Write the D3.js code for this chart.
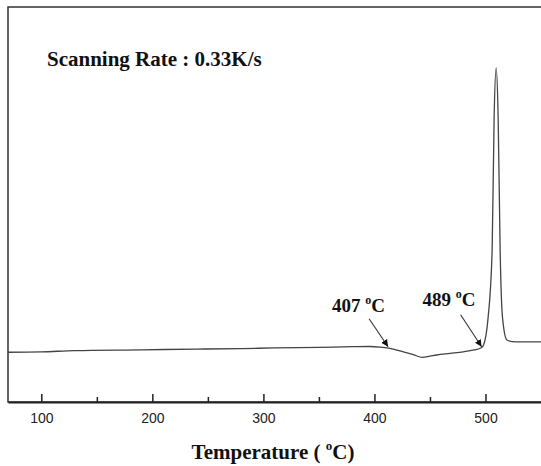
<!DOCTYPE html>
<html>
<head>
<meta charset="utf-8">
<script src="https://cdn.jsdelivr.net/npm/d3@7"></script>
<style>
  body { margin: 0; background: #fff; }
  svg { display: block; }
</style>
</head>
<body>
<div id="chart"></div>
<script>
var width = 541, height = 466;
var margin = {left: 8, top: 7, right: 0, bottom: 64};

// DSC trace, temperature (C) vs heat flow (arbitrary units)
var temps = [70, 100, 130, 190, 240, 280, 310, 350, 380, 396, 405, 414, 426, 435, 443, 450, 456, 468, 480, 490, 495.2, 497.6, 502.4, 506, 507.8, 509.6, 511.4, 513.2, 515.3, 519.3, 524, 531.3, 550];
var heatFlow = [12.6, 12.7, 13.0, 13.2, 13.4, 13.5, 13.7, 13.85, 14.0, 14.05, 13.9, 13.55, 12.7, 12.0, 11.3, 11.6, 11.9, 12.3, 12.7, 13.2, 13.6, 14.1, 21.5, 38.5, 72.2, 84.6, 72.2, 38.5, 21.5, 15.7, 15.3, 15.2, 15.2];

var majorTicks = [100, 200, 300, 400, 500];
var minorTicks = [150, 250, 350, 450];

var notes = ["407", "489"];
var noteTips = [412.3, 496.5];     // where the arrows point (temperature)
var noteTipVals = [14.0, 14.0];

var x = d3.scaleLinear()
	.domain([70, 550])
	.range([margin.left, width - margin.right]);

var y = d3.scaleLinear()
	.domain([0, 100])
	.range([height - margin.bottom, margin.top]);

var svg = d3.select("#chart").append("svg")
	.attr("width", width)
	.attr("height", height);

svg.append("defs").append("marker")
	.attr("id", "arrow")
	.attr("viewBox", "0 0 10 10")
	.attr("refX", 10)
	.attr("refY", 5)
	.attr("markerWidth", 7)
	.attr("markerHeight", 8)
	.attr("markerUnits", "userSpaceOnUse")
	.attr("orient", "auto")
	.append("path")
		.attr("d", "M0,0 L10,5 L0,10 z")
		.style("fill", "#111");

// frame
svg.append("rect")
	.attr("x", margin.left)
	.attr("y", margin.top)
	.attr("width", width + 10)
	.attr("height", y(0) - margin.top)
	.style("fill", "none")
	.style("stroke", "#333")
	.style("stroke-width", 1.5);

var xAxis = svg.append("g")
	.attr("transform", "translate(0," + y(0) + ")")
	.call(d3.axisBottom(x)
		.tickValues(majorTicks)
		.tickSizeInner(-8)
		.tickSizeOuter(0)
		.tickPadding(11));

xAxis.select(".domain").style("stroke", "#222").style("stroke-width", 2);
xAxis.selectAll(".tick line").style("stroke", "#222").style("stroke-width", 1.5);
xAxis.selectAll(".tick text")
	.style("font-family", "'Liberation Sans', Arial, sans-serif")
	.style("font-size", "14px")
	.style("fill", "#222");

var minorAxis = svg.append("g")
	.attr("transform", "translate(0," + y(0) + ")")
	.call(d3.axisBottom(x)
		.tickValues(minorTicks)
		.tickSizeInner(-5)
		.tickSizeOuter(0)
		.tickFormat(""));
minorAxis.select(".domain").remove();
minorAxis.selectAll(".tick line").style("stroke", "#222").style("stroke-width", 1.5);

// trace
var data = temps.map(function(t, i) { return {t: t, v: heatFlow[i]}; });

var line = d3.line()
	.x(function(d) { return x(d.t); })
	.y(function(d) { return y(d.v); })
	.curve(d3.curveMonotoneX);

svg.append("path")
	.datum(data)
	.attr("d", line)
	.style("fill", "none")
	.style("stroke", "#444")
	.style("stroke-width", 1.3);

var serif = "'Liberation Serif', 'Times New Roman', serif";

// annotations
var labelPos = [{dx: -56, dy: -35}, {dx: -59, dy: -41}];
var arrowStart = [{dx: -19, dy: -28}, {dx: -21, dy: -32}];

notes.forEach(function(n, i) {
	var tx = x(noteTips[i]), ty = y(noteTipVals[i]);
	svg.append("line")
		.attr("x1", tx + arrowStart[i].dx)
		.attr("y1", ty + arrowStart[i].dy)
		.attr("x2", tx)
		.attr("y2", ty)
		.style("stroke", "#333")
		.style("stroke-width", 1.1)
		.attr("marker-end", "url(#arrow)");

	var t = svg.append("text")
		.attr("x", tx + labelPos[i].dx)
		.attr("y", ty + labelPos[i].dy)
		.style("font-family", serif)
		.style("font-weight", "bold")
		.style("font-size", "19px")
		.style("fill", "#111");
	t.append("tspan").text(n + " ");
	t.append("tspan").text("o").attr("dy", -8).style("font-size", "12px");
	t.append("tspan").text("C").attr("dy", 8);
});

svg.append("text")
	.attr("x", 47)
	.attr("y", 66)
	.style("font-family", serif)
	.style("font-weight", "bold")
	.style("font-size", "21px")
	.style("fill", "#111")
	.text("Scanning Rate : 0.33K/s");

var title = svg.append("text")
	.attr("x", 273)
	.attr("y", 459)
	.attr("text-anchor", "middle")
	.style("font-family", serif)
	.style("font-weight", "bold")
	.style("font-size", "21px")
	.style("fill", "#111");
title.append("tspan").text("Temperature ( ");
title.append("tspan").text("o").attr("dy", -9).style("font-size", "13px");
title.append("tspan").text("C)").attr("dy", 9);
</script>
</body>
</html>
